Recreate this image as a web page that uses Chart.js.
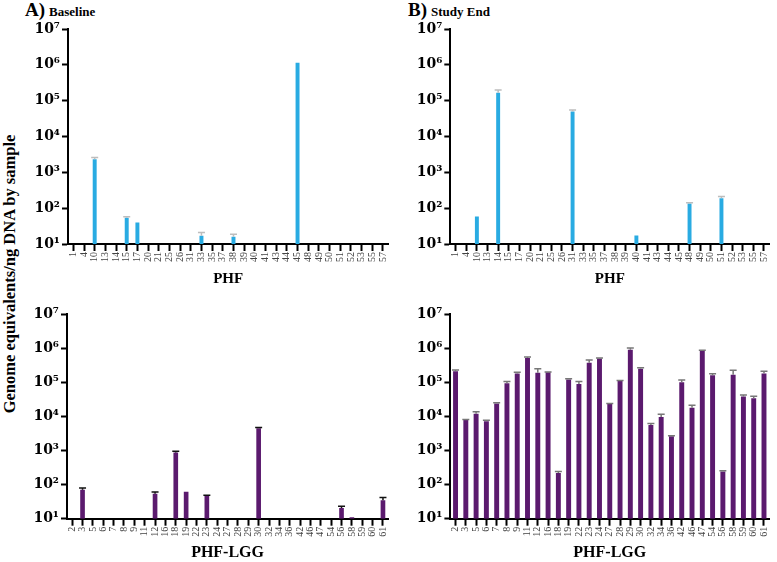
<!DOCTYPE html>
<html>
<head>
<meta charset="utf-8">
<script src="https://cdn.jsdelivr.net/npm/chart.js@4.4.0/dist/chart.umd.min.js"></script>
<style>
  body { margin: 0; background: #fff; width: 777px; height: 562px; overflow: hidden; position: relative; font-family: 'Liberation Serif', 'Times New Roman', serif; }
  canvas { position: absolute; }
  .panel-title { position: absolute; font-weight: bold; color: #000; white-space: nowrap; }
  .panel-title b { font-size: 19px; }
  .panel-title span { font-size: 13px; }
  #ytitle { position: absolute; left: 10px; top: 274px; transform: translate(-50%, -50%) rotate(-90deg); font-size: 16.5px; font-weight: bold; white-space: nowrap; }
</style>
</head>
<body>
<div class="panel-title" style="left:25px; top:-1px;"><b>A)</b> <span>Baseline</span></div>
<div class="panel-title" style="left:408px; top:-1px;"><b>B)</b> <span>Study End</span></div>
<div id="ytitle">Genome equivalents/ng DNA by sample</div>

<canvas id="tl" width="396" height="292" style="left:0; top:0;"></canvas>
<canvas id="tr" width="392" height="292" style="left:385px; top:0;"></canvas>
<canvas id="bl" width="396" height="280" style="left:0; top:282px;"></canvas>
<canvas id="br" width="392" height="280" style="left:385px; top:282px;"></canvas>

<script>
// sample ids
const phfSamples = ['1','4','10','13','14','15','17','20','21','25','26','31','33','35','37','38','39','40','41','43','44','45','48','49','50','51','52','53','55','57'];
const lggSamples = ['2','3','5','6','7','8','9','11','12','16','18','19','22','23','24','27','28','29','30','32','34','36','42','46','47','54','56','58','59','60','61'];

// PHF group, genome equivalents (mean and mean+error)
const phfBaseline    = [null,null,2300,null,null,54,40,null,null,null,null,null,17,null,null,16,null,null,null,null,null,1150000,null,null,null,null,null,null,null,null];
const phfBaselineErr = [null,null,2600,null,null,58,null,null,null,null,null,null,21,null,null,18.6,null,null,null,null,null,null,null,null,null,null,null,null,null,null];
const phfEnd         = [null,null,59,null,166000,null,null,null,null,null,null,50000,null,null,null,null,null,17.4,null,null,null,null,135,null,null,190,null,null,null,null];
const phfEndErr      = [null,null,null,null,200000,null,null,null,null,null,null,55000,null,null,null,null,null,null,null,null,null,null,142,null,null,210,null,null,null,null];

// PHF-LGG group
const lggBaseline    = [null,71,null,null,null,null,null,null,54,null,870,62,null,47,null,null,null,null,4500,null,null,null,null,null,null,null,20.7,11,null,null,35];
const lggBaselineErr = [null,80,null,null,null,null,null,null,61,null,950,null,null,49,null,null,null,null,4700,null,null,null,null,null,null,null,23,null,null,null,42];
const lggEnd    = [210000,7800,12000,7200,24000,94000,180000,510000,190000,195000,220,120000,89000,370000,500000,23000,110000,890000,250000,5600,9500,2600,100000,18000,850000,160000,240,165000,38000,34000,180000];
const lggEndErr = [230000,8100,13700,7700,25000,105000,195000,550000,250000,200000,240,126000,105000,445000,515000,24000,113000,1000000,265000,6200,11500,2700,117000,21000,870000,178000,255,225000,42000,39000,210000];

const yTickExps = [1, 2, 3, 4, 5, 6, 7];
const sup = { 1: '\u00B9', 2: '\u00B2', 3: '\u00B3', 4: '\u2074', 5: '\u2075', 6: '\u2076', 7: '\u2077' };

const BLUE = '#29ABE2';
const PURPLE = '#5B1A6E';
const SERIF = "'Liberation Serif', 'Times New Roman', serif";
const WIDE_SERIF = "'DejaVu Serif', 'Liberation Serif', serif";

const errBars = {
  id: 'errbars',
  afterDatasetsDraw(chart, args, opts) {
    const errs = opts.values || [];
    const ctx = chart.ctx;
    const yScale = chart.scales.y;
    const meta = chart.getDatasetMeta(0);
    ctx.save();
    ctx.strokeStyle = opts.color;
    ctx.lineWidth = 1.5;
    meta.data.forEach((bar, i) => {
      if (errs[i] == null) return;
      const y = yScale.getPixelForValue(errs[i]);
      ctx.beginPath();
      ctx.moveTo(bar.x, bar.y);
      ctx.lineTo(bar.x, y);
      ctx.moveTo(bar.x - opts.cap, y);
      ctx.lineTo(bar.x + opts.cap, y);
      ctx.stroke();
    });
    ctx.restore();
  }
};

function makePanel(id, labels, values, errs, o) {
  return new Chart(document.getElementById(id), {
    type: 'bar',
    data: {
      labels: labels,
      datasets: [{
        data: values,
        backgroundColor: o.color,
        borderWidth: 0,
        barPercentage: o.barPct,
        categoryPercentage: 1,
      }]
    },
    options: {
      responsive: false,
      animation: false,
      layout: { padding: { top: o.padTop, right: o.padRight, left: 0, bottom: 0 } },
      plugins: {
        legend: { display: false },
        tooltip: { enabled: false },
        errbars: { values: errs, color: o.errColor, cap: 3.5 }
      },
      scales: {
        x: {
          offset: true,
          afterFit: s => { s.height = o.xHeight; },
          grid: { display: true, drawOnChartArea: false, tickLength: 7, tickWidth: 2, color: '#000', offset: false },
          border: { color: '#000', width: 2 },
          ticks: { color: '#444', font: { family: SERIF, size: 10 }, minRotation: 90, maxRotation: 90, autoSkip: false, padding: 1 },
          title: { display: true, text: o.xTitle, color: '#000', font: { family: SERIF, size: o.xTitleSize, weight: 'bold' }, padding: { top: 0, bottom: o.xTitlePad } }
        },
        y: {
          type: 'logarithmic',
          min: 10,
          max: 1e7,
          afterFit: s => { s.width = o.yWidth; },
          afterBuildTicks: s => { s.ticks = yTickExps.map(e => ({ value: Math.pow(10, e) })); },
          grid: { drawOnChartArea: false, tickLength: 6, tickWidth: 2, color: '#000' },
          border: { color: '#000', width: 2 },
          ticks: {
            color: '#000',
            padding: 2,
            font: { family: WIDE_SERIF, size: 14, weight: 'bold' },
            callback: v => '10' + sup[Math.round(Math.log10(v))]
          }
        }
      }
    },
    plugins: [errBars]
  });
}

makePanel('tl', phfSamples, phfBaseline, phfBaselineErr, {
  color: BLUE, errColor: '#bdbdbd', barPct: 0.37, padTop: 29, padRight: 2.5, yWidth: 68, xHeight: 48,
  xTitle: 'PHF', xTitleSize: 15, xTitlePad: 4
});
makePanel('tr', phfSamples, phfEnd, phfEndErr, {
  color: BLUE, errColor: '#bdbdbd', barPct: 0.37, padTop: 29, padRight: 1.2, yWidth: 65.3, xHeight: 48,
  xTitle: 'PHF', xTitleSize: 15, xTitlePad: 4
});
makePanel('bl', lggSamples, lggBaseline, lggBaselineErr, {
  color: PURPLE, errColor: '#111', barPct: 0.45, padTop: 32, padRight: 2.6, yWidth: 67, xHeight: 43.3,
  xTitle: 'PHF-LGG', xTitleSize: 16, xTitlePad: 0
});
makePanel('br', lggSamples, lggEnd, lggEndErr, {
  color: PURPLE, errColor: '#777', barPct: 0.48, padTop: 32, padRight: 0.5, yWidth: 65.4, xHeight: 43.3,
  xTitle: 'PHF-LGG', xTitleSize: 16, xTitlePad: 0
});
</script>
</body>
</html>
